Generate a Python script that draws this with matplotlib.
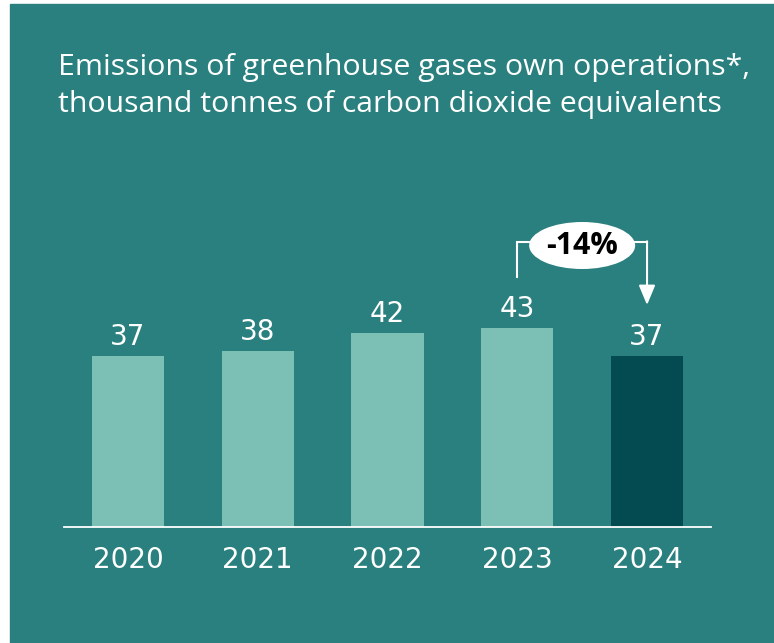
import matplotlib.pyplot as plt
from matplotlib.patches import Rectangle, Ellipse

years = ['2020', '2021', '2022', '2023', '2024']
emissions = [37, 38, 42, 43, 37]
change_label = '-14%'
title_lines = ['Emissions of greenhouse gases own operations*,',
               'thousand tonnes of carbon dioxide equivalents']

bg = '#2a807f'
light = '#7bbfb5'
dark = '#034b50'

plt.rcParams['font.family'] = ['Open Sans', 'DejaVu Sans']
num_font = ['DejaVu Sans']

W, H = 774, 643
fig = plt.figure(figsize=(W / 100, H / 100), dpi=100, facecolor='white')
fig.patches.append(Rectangle((10 / W, 0), 1, (H - 4) / H, transform=fig.transFigure,
                             color=bg, zorder=-1))

# axes: baseline at y=527px, x-axis line from 64px to 711px
base = 527
scale = 4.62  # px per unit
top = 150
ax = fig.add_axes([64 / W, (H - base) / H, 647 / W, (base - top) / H])
ax.set_zorder(1)
ax.set_facecolor('none')
ax.set_xlim(-0.493, 4.493)
ax.set_ylim(0, (base - top) / scale)

x = list(range(len(years)))
colors = [light] * (len(years) - 1) + [dark]
ax.bar(x, emissions, width=0.555, color=colors, zorder=2)

for xi, v in zip(x, emissions):
    ax.annotate(str(v), (xi, v), xytext=(0, 11), textcoords='offset pixels',
                ha='center', va='baseline', color='white', fontsize=20,
                family=num_font)

for s in ['top', 'left', 'right']:
    ax.spines[s].set_visible(False)
ax.spines['bottom'].set_color('white')
ax.spines['bottom'].set_linewidth(1.3)
ax.set_yticks([])
ax.set_xticks(x)
ax.set_xticklabels([])
ax.tick_params(axis='x', length=0)
for xi, yr in zip(x, years):
    ax.annotate(yr, (xi, 0), xytext=(0, -41), textcoords='offset pixels',
                ha='center', va='baseline', color='white', fontsize=20,
                family=num_font)

# change bracket between 2023 and 2024
y_low = (base - 277) / scale
y_top = (base - 242) / scale
y_tip = (base - 305) / scale
ax.plot([3, 3, 4], [y_low, y_top, y_top], color='white', lw=1.5, zorder=3,
        solid_joinstyle='miter', clip_on=False)
ax.annotate('', xy=(4, y_tip), xytext=(4, y_top + 0.15),
            arrowprops=dict(arrowstyle='-|>,head_length=1.2,head_width=0.5',
                            color='white', lw=1.5, shrinkA=0, shrinkB=0,
                            mutation_scale=10), annotation_clip=False)
ax.add_patch(Ellipse((3.5, (base - 245.5) / scale), 0.817, 47 / scale,
                     facecolor='white', edgecolor='none', zorder=4, clip_on=False))
ax.text(3.5, (base - 245.5) / scale, change_label, ha='center', va='center',
        fontsize=22, fontweight='bold', color='black', zorder=5)

fig.text(58 / W, 1 - 75 / H, title_lines[0], color='white', fontsize=21.8, va='baseline')
fig.text(58 / W, 1 - 112 / H, title_lines[1], color='white', fontsize=21.8, va='baseline')

fig.savefig('out.png', dpi=100, facecolor='white')
